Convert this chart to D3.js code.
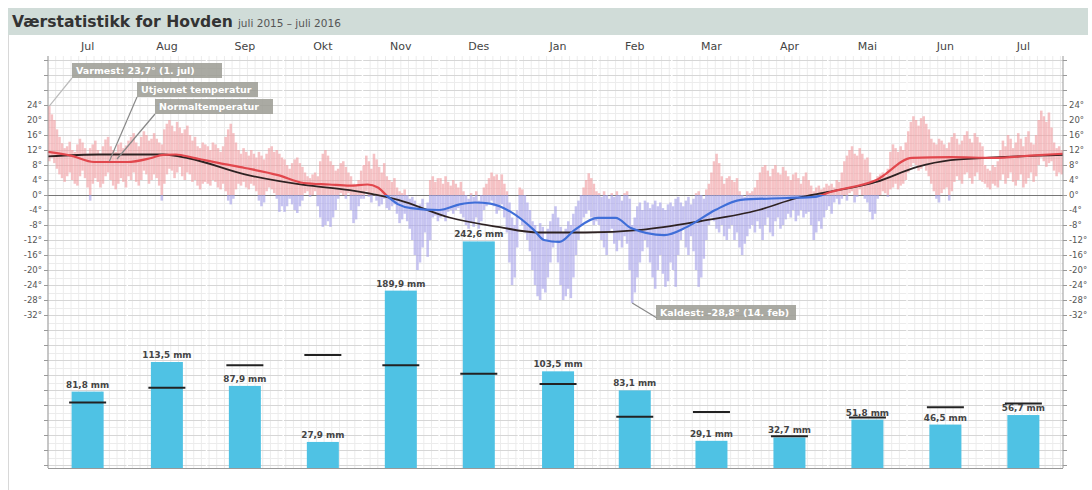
<!doctype html>
<html>
<head>
<meta charset="utf-8">
<title>Værstatistikk for Hovden</title>
<script src="https://d3js.org/d3.v7.min.js"></script>
<style>
  body { margin: 0; background: #fff; }
  text { font-family: "DejaVu Sans", Verdana, sans-serif; }
</style>
</head>
<body>
<script>
var width = 1092, height = 490;
var plotLeft = 48, plotRight = 1063, plotTop = 56, plotBottom = 468;

// months shown (Jul 2015 - Jul 2016)
var monthNames = ["Jul", "Aug", "Sep", "Okt", "Nov", "Des", "Jan", "Feb", "Mar", "Apr", "Mai", "Jun", "Jul"];
// precipitation per month, mm
var precip = [81.8, 113.5, 87.9, 27.9, 189.9, 242.6, 103.5, 83.1, 29.1, 32.7, 51.8, 46.5, 56.7];
// normal precipitation per month, mm
var precipNormal = [70, 86, 110, 121, 110, 101, 90, 55, 60, 34, 54, 65, 69];

// daily max temperature, one row per month
var tMax = [
  23.7,21.5,20.0,17.5,15.5,13.8,12.5,13.0,14.2,12.0,11.5,13.5,15.0,14.0,12.5,11.0,12.5,13.5,14.5,12.0,11.0,13.0,14.8,15.5,13.0,12.0,11.5,13.5,14.0,12.5,13.2,
  14.5,15.5,16.5,14.0,13.0,15.5,17.0,16.0,14.5,15.0,16.5,15.0,14.0,13.5,17.5,19.0,20.0,18.5,17.0,19.5,18.0,16.5,17.5,18.5,16.0,14.5,15.5,13.0,12.5,14.0,13.5,
  13.0,12.0,14.0,13.5,12.5,11.5,13.0,15.5,17.5,19.0,16.5,14.0,12.0,11.0,12.5,11.5,10.5,12.0,11.0,10.0,11.5,10.5,9.5,11.0,12.5,13.0,11.5,12.0,11.0,10.0,
  9.5,8.0,7.0,8.5,9.5,10.0,8.5,7.5,6.0,5.0,4.5,5.5,6.0,5.0,9.0,11.0,12.0,10.5,9.0,8.0,6.5,7.0,8.5,9.0,7.5,6.0,5.0,3.0,2.5,4.0,6.5,
  8.0,10.5,9.0,7.0,11.0,9.5,7.5,6.0,8.5,5.0,4.0,3.5,4.5,2.0,1.0,0.5,1.5,0.0,-1.0,-0.5,-1.5,-3.0,-2.5,-1.0,-3.5,-2.0,4.0,5.0,3.5,4.5,
  4.5,3.0,5.0,3.5,2.5,4.0,3.0,2.0,3.5,1.0,0.0,-1.0,0.5,-0.5,1.0,-1.5,0.0,2.0,3.0,4.5,6.0,5.0,5.5,4.0,5.5,3.0,1.0,-2.0,-6.0,-8.0,-4.0,
  2.0,1.5,0.0,-2.0,-4.0,-7.0,-8.0,-10.0,-7.5,-8.5,-12.0,-9.0,-7.0,-5.0,-3.0,-6.0,-8.5,-10.0,-9.0,-7.0,-8.0,-5.0,-3.0,-1.5,0.0,2.0,4.0,5.8,4.5,3.0,1.0,
  0.5,-0.5,1.0,0.0,-1.0,0.5,-0.5,1.0,0.0,-1.5,0.5,1.0,-1.0,-8.0,-6.0,-3.0,-2.0,-4.0,-1.5,-2.0,-3.5,-2.5,-1.5,-3.0,-2.0,-3.5,-4.0,-2.5,-2.0,
  -3.0,-1.0,-0.5,-2.0,-3.0,-1.5,-0.5,-2.5,-1.0,0.5,1.0,0.0,-1.0,1.5,3.0,6.0,9.0,11.0,8.5,5.0,3.0,4.5,5.0,4.0,3.5,4.5,1.0,0.0,-0.5,1.0,0.5,
  1.0,2.0,4.0,6.0,7.5,8.0,6.5,5.0,7.0,8.0,6.0,5.5,7.5,6.5,5.0,4.0,5.5,6.0,4.5,3.0,5.0,6.0,4.0,2.5,1.0,2.0,2.5,1.5,2.0,3.0,
  2.5,3.0,2.0,4.0,3.5,6.0,9.0,10.5,12.0,13.0,11.0,10.5,12.5,11.0,9.5,10.0,6.0,4.0,3.0,5.0,5.5,6.0,5.0,7.0,11.5,13.5,12.5,11.5,13.0,12.0,14.0,
  17.0,19.5,21.0,20.0,18.5,20.5,21.0,19.0,17.5,15.0,14.0,13.5,15.0,14.5,13.5,12.5,14.0,15.5,16.5,15.0,13.5,14.5,16.0,17.0,15.0,14.0,16.5,15.5,14.0,13.0,
  8.0,7.0,6.5,8.0,7.5,9.0,12.0,14.5,13.0,16.0,15.0,12.5,14.0,16.5,15.0,13.0,15.5,17.0,14.0,13.5,16.0,20.0,22.5,21.0,19.5,22.0,18.0,14.0,12.5,13.0,12.0
];
// daily min temperature, one row per month
var tMin = [
  9.0,10.0,8.5,7.0,5.5,4.5,3.5,5.0,6.0,4.0,3.0,2.5,5.0,6.5,4.5,2.0,-1.5,3.0,4.5,3.5,2.0,3.0,5.0,6.0,4.0,2.5,1.5,3.0,4.5,3.5,2.0,
  5.0,4.0,6.0,3.5,2.5,4.0,6.5,5.5,3.0,4.0,5.5,4.5,2.5,-1.5,3.0,5.5,7.0,6.5,4.5,6.0,7.5,5.0,4.0,6.0,5.5,3.5,4.0,2.5,1.5,3.0,3.5,
  3.0,2.5,4.0,3.5,2.0,1.5,3.0,1.0,-1.5,-2.5,-1.0,1.5,3.0,2.5,3.5,2.0,1.5,3.0,2.5,1.0,-1.5,-3.0,-2.0,1.0,2.0,1.5,0.5,-1.0,-4.5,-3.0,
  -4.5,-3.0,-1.0,-2.5,-4.0,-4.8,-3.0,-1.5,0.5,1.0,-0.5,0.0,1.0,-3.0,-6.0,-8.5,-8.0,-7.0,-8.5,-6.0,-4.0,-1.0,0.5,0.0,-1.0,0.5,-4.0,-7.5,-6.5,-3.0,-1.0,
  -1.0,1.0,-0.5,-2.0,0.5,-1.5,-3.0,-2.5,-1.0,-3.5,-4.0,-3.0,-2.5,-5.0,-7.5,-6.5,-5.0,-7.0,-9.0,-12.0,-16.0,-20.0,-18.0,-14.0,-10.0,-16.5,-12.0,-6.0,-5.5,-7.0,
  -6.0,-5.5,-7.0,-4.5,-4.0,-5.0,-4.0,-3.5,-5.0,-6.0,-8.0,-9.0,-7.5,-8.5,-6.0,-9.0,-7.0,-4.0,-3.0,-2.0,-1.5,-3.0,-5.0,-4.0,-2.5,-6.0,-10.0,-18.0,-24.0,-22.0,-14.0,
  -6.0,-8.0,-10.0,-12.0,-15.0,-20.0,-24.0,-27.0,-28.0,-25.0,-26.0,-22.0,-18.0,-14.0,-12.0,-18.0,-24.0,-28.0,-27.0,-25.0,-27.5,-22.0,-16.0,-12.0,-8.0,-6.0,-5.0,-4.0,-6.0,-8.0,-7.0,
  -8.0,-12.0,-14.0,-16.0,-10.0,-9.0,-13.0,-15.0,-12.0,-14.0,-11.0,-13.0,-20.0,-28.8,-26.0,-22.0,-18.0,-15.0,-12.0,-14.0,-18.0,-22.0,-25.0,-20.0,-16.0,-21.0,-24.5,-23.0,-18.0,
  -20.0,-24.5,-16.0,-12.0,-9.0,-14.0,-16.0,-11.0,-15.0,-20.0,-24.5,-22.0,-17.0,-12.0,-8.0,-6.0,-7.0,-9.0,-10.0,-8.0,-11.0,-12.0,-9.0,-8.0,-12.0,-10.0,-14.0,-16.0,-13.0,-11.0,-9.0,
  -8.0,-10.0,-7.0,-9.0,-12.0,-8.0,-6.0,-10.0,-11.0,-7.0,-6.0,-9.0,-8.0,-6.5,-5.0,-6.0,-4.0,-7.0,-5.5,-4.0,-6.0,-5.0,-4.5,-8.0,-12.0,-10.0,-7.0,-9.0,-6.0,-4.0,
  -3.0,-5.0,-2.0,-1.0,-2.5,-1.0,0.0,-1.5,0.5,1.0,-2.0,-0.5,1.5,0.0,-1.0,-2.0,-4.5,-6.5,-5.0,-1.0,0.0,1.0,0.5,-0.5,1.5,2.0,3.0,1.5,2.5,3.0,4.0,
  6.0,7.5,8.5,8.0,6.5,7.0,8.0,6.5,5.0,3.0,1.0,-1.0,-2.0,0.5,1.5,2.0,-1.5,1.0,3.5,5.0,4.0,3.0,5.5,6.0,4.5,3.0,5.0,6.0,4.0,3.5,
  3.0,2.0,1.5,3.0,2.5,2.0,4.0,5.5,3.0,4.5,6.0,3.5,2.5,4.0,5.5,2.0,3.0,4.5,6.0,3.5,5.0,8.0,10.0,9.0,7.5,8.5,9.0,6.5,5.0,6.0,5.5
];

// smoothed temperature ("Utjevnet temperatur"), day offset from 1 Jul 2015
var smoothDay  = [0, 9, 18, 31, 40, 45, 50, 57, 67, 77, 90, 100, 110, 118, 125, 129, 133, 137, 142, 153, 161, 167, 173, 181, 190, 194, 200, 206, 215, 222, 228, 241, 250, 261, 271, 289, 300, 306, 324, 338, 353, 370, 384, 397];
var smoothTemp = [11.5, 10.5, 8.8, 8.8, 9.8, 10.7, 10.8, 9.9, 8.5, 7.2, 5.3, 3.2, 2.8, 2.5, 2.8, 2.0, -0.5, -2.5, -3.5, -4.0, -2.5, -2.0, -2.3, -4.5, -9.3, -12.0, -12.5, -9.3, -6.1, -6.1, -8.8, -10.7, -8.5, -4.0, -1.3, -0.8, -0.5, 0.8, 4.0, 9.9, 10.1, 9.9, 10.5, 11.0];
// normal temperature
var normDay  = [0, 20, 45, 55, 77, 100, 118, 137, 157, 176, 192, 210, 232, 255, 278, 293, 305, 324, 340, 353, 370, 397];
var normTemp = [10.3, 10.8, 10.8, 9.8, 5.5, 2.7, 1.3, -1.3, -6.0, -8.5, -10.0, -10.0, -9.3, -7.0, -4.0, -0.8, 0.8, 3.5, 7.5, 9.3, 10.0, 10.7];

var tempTicks = d3.range(-72, 37, 4);

var start = Date.UTC(2015, 6, 1);
var DAY = 86400000;
function dayDate(d) { return new Date(start + d * DAY); }

var svg = d3.select("body").append("svg")
  .attr("width", width).attr("height", height);

var x = d3.scaleUtc()
  .domain([new Date(start), new Date(Date.UTC(2016, 7, 1))])
  .range([plotLeft, plotRight]);
var yT = d3.scaleLinear().domain([-32, 24]).range([315, 105]);
var yP = d3.scaleLinear().domain([0, 100]).range([plotBottom, plotBottom - 93.4]);

var months = d3.utcMonths(new Date(start), new Date(Date.UTC(2016, 7, 1)));
function monthMid(m) { return new Date((+m + +d3.utcMonth.offset(m, 1)) / 2); }

// frame + title bar
svg.append("rect").attr("x", 8).attr("y", 8).attr("width", 1080).attr("height", 27)
  .attr("fill", "#d0dcd8");
svg.append("line").attr("x1", 8.5).attr("x2", 8.5).attr("y1", 35).attr("y2", height)
  .attr("stroke", "#d8d8d8");
var title = svg.append("text").attr("x", 12).attr("y", 27).attr("fill", "#333");
title.append("tspan").attr("font-size", 15.6).attr("font-weight", "bold").text("Værstatistikk for Hovden");
title.append("tspan").attr("font-size", 10.5).attr("dx", 5).attr("fill", "#555").text("juli 2015 – juli 2016");

// grid
var grid = svg.append("g");
var days = d3.utcDay.range(new Date(start), new Date(Date.UTC(2016, 7, 1)));
grid.selectAll(".vminor").data(days.filter(function(d, i) { return i % 3 === 0; }))
  .enter().append("line")
  .attr("x1", function(d) { return x(d); }).attr("x2", function(d) { return x(d); })
  .attr("y1", plotTop).attr("y2", plotBottom)
  .attr("stroke", "#ececec").attr("stroke-width", 1);
grid.selectAll(".hminor").data(d3.range(-72, 37, 2))
  .enter().append("line")
  .attr("x1", plotLeft).attr("x2", plotRight)
  .attr("y1", function(d) { return Math.round(yT(d)) + 0.5; })
  .attr("y2", function(d) { return Math.round(yT(d)) + 0.5; })
  .attr("stroke", function(d) { return d % 4 === 0 ? "#d6d6d6" : "#ececec"; });
grid.selectAll(".vmonth").data(months.slice(1))
  .enter().append("line")
  .attr("x1", function(d) { return x(d); }).attr("x2", function(d) { return x(d); })
  .attr("y1", plotTop).attr("y2", plotBottom)
  .attr("stroke", "#fff").attr("stroke-width", 1.5);
grid.append("line").attr("x1", plotLeft).attr("x2", plotRight)
  .attr("y1", Math.round(yT(0)) + 0.5).attr("y2", Math.round(yT(0)) + 0.5)
  .attr("stroke", "#777");

// colour split at 0 degrees
var defs = svg.append("defs");
function splitGradient(id, warm, cold) {
  var g = defs.append("linearGradient").attr("id", id)
    .attr("gradientUnits", "userSpaceOnUse")
    .attr("x1", 0).attr("x2", 0).attr("y1", yT(0) - 1).attr("y2", yT(0) + 1);
  g.append("stop").attr("offset", 0.5).attr("stop-color", warm);
  g.append("stop").attr("offset", 0.5).attr("stop-color", cold);
}
splitGradient("dailyFill", "#f29ea2", "#a6a1ea");
splitGradient("smoothStroke", "#e2474d", "#3f6ed8");

// daily min-max bars
svg.append("g").attr("opacity", 0.62).selectAll("rect").data(tMax)
  .enter().append("rect")
  .attr("x", function(d, i) { return x(dayDate(i)); })
  .attr("width", function(d, i) { return x(dayDate(i + 1)) - x(dayDate(i)); })
  .attr("y", function(d) { return yT(d); })
  .attr("height", function(d, i) { return yT(tMin[i]) - yT(d); })
  .attr("fill", "url(#dailyFill)");

// normal + smoothed temperature
var normLine = d3.line().curve(d3.curveMonotoneX)
  .x(function(d, i) { return x(dayDate(normDay[i])); })
  .y(function(d) { return yT(d); });
svg.append("path").attr("d", normLine(normTemp))
  .attr("fill", "none").attr("stroke", "#2e2222").attr("stroke-width", 1.8);
var smoothLine = d3.line().curve(d3.curveMonotoneX)
  .x(function(d, i) { return x(dayDate(smoothDay[i])); })
  .y(function(d) { return yT(d); });
svg.append("path").attr("d", smoothLine(smoothTemp))
  .attr("fill", "none").attr("stroke", "url(#smoothStroke)").attr("stroke-width", 2.2);

// precipitation bars
var barW = 32, normW = 37;
var pbars = svg.append("g");
pbars.selectAll("rect").data(precip).enter().append("rect")
  .attr("x", function(d, i) { return x(monthMid(months[i])) - barW / 2; })
  .attr("width", barW)
  .attr("y", function(d) { return yP(d); })
  .attr("height", function(d) { return yP(0) - yP(d); })
  .attr("fill", "#4fc2e4");
pbars.selectAll("line").data(precipNormal).enter().append("line")
  .attr("x1", function(d, i) { return x(monthMid(months[i])) - normW / 2; })
  .attr("x2", function(d, i) { return x(monthMid(months[i])) + normW / 2; })
  .attr("y1", function(d) { return yP(d); }).attr("y2", function(d) { return yP(d); })
  .attr("stroke", "#222").attr("stroke-width", 2);
pbars.selectAll("text").data(precip).enter().append("text")
  .attr("x", function(d, i) { return x(monthMid(months[i])); })
  .attr("y", function(d) { return yP(d) - 4; })
  .attr("text-anchor", "middle").attr("font-size", 8.8).attr("font-weight", "bold")
  .attr("fill", "#444")
  .text(function(d) { return d.toFixed(1).replace(".", ",") + " mm"; });

// axes
function fmt(d) { return (d >= -32 && d <= 24) ? d + "°" : ""; }
var leftAxis = svg.append("g").attr("transform", "translate(" + plotLeft + ",0)")
  .call(d3.axisLeft(yT).tickValues(tempTicks).tickFormat(fmt).tickSize(4).tickPadding(2));
var rightAxis = svg.append("g").attr("transform", "translate(" + plotRight + ",0)")
  .call(d3.axisRight(yT).tickValues(tempTicks).tickFormat(fmt).tickSize(4).tickPadding(2));
[leftAxis, rightAxis].forEach(function(a) {
  a.select(".domain").remove();
  a.selectAll(".tick line").attr("stroke", "#999");
  a.selectAll("text").attr("font-size", 8.5).attr("fill", "#555")
    .attr("font-family", "DejaVu Sans, sans-serif");
  a.append("line").attr("y1", plotTop).attr("y2", plotBottom).attr("stroke", "#999");
});
svg.append("line").attr("x1", plotLeft).attr("x2", plotRight)
  .attr("y1", plotBottom + 0.5).attr("y2", plotBottom + 0.5).attr("stroke", "#999");

svg.append("g").selectAll("text").data(months).enter().append("text")
  .attr("x", function(d) { return x(monthMid(d)); })
  .attr("y", 50)
  .attr("text-anchor", "middle").attr("font-size", 11).attr("fill", "#444")
  .text(function(d, i) { return monthNames[i]; });

// annotations
function note(px, py, bx, by, bw, label, lineColor) {
  svg.append("line").attr("x1", px).attr("y1", py).attr("x2", bx).attr("y2", by + 15)
    .attr("stroke", lineColor).attr("stroke-width", 1.2);
  svg.append("rect").attr("x", bx).attr("y", by).attr("width", bw).attr("height", 15)
    .attr("fill", "#9b9b93").attr("opacity", 0.85);
  svg.append("text").attr("x", bx + 4).attr("y", by + 11)
    .attr("font-size", 9.5).attr("font-weight", "bold").attr("fill", "#fff")
    .text(label);
}
note(x(dayDate(0.5)), yT(23.7), 72, 63, 150, "Varmest: 23,7° (1. jul)", "#bbb");
note(x(dayDate(24)), yT(9.0), 137, 82, 121, "Utjevnet temperatur", "#888");
note(x(dayDate(27)), yT(9.6), 155, 99, 118, "Normaltemperatur", "#888");
svg.append("line").attr("x1", x(dayDate(228.5))).attr("y1", yT(-28.8))
  .attr("x2", 657).attr("y2", 318).attr("stroke", "#888").attr("stroke-width", 1.2);
svg.append("rect").attr("x", 656).attr("y", 305).attr("width", 140).attr("height", 15)
  .attr("fill", "#9b9b93").attr("opacity", 0.85);
svg.append("text").attr("x", 660).attr("y", 316)
  .attr("font-size", 9.5).attr("font-weight", "bold").attr("fill", "#fff")
  .text("Kaldest: -28,8° (14. feb)");
</script>
</body>
</html>
